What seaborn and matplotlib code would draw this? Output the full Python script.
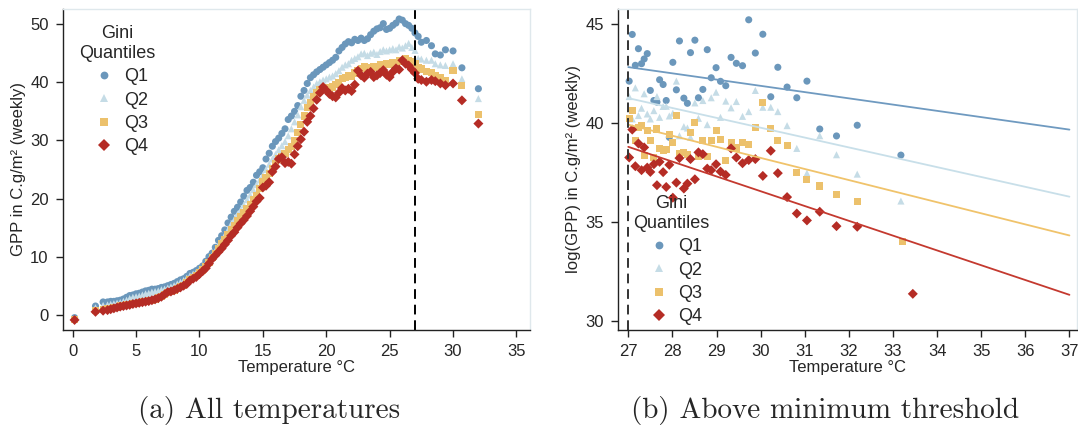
import numpy as np
import pandas as pd
import seaborn as sns
import matplotlib.pyplot as plt

quantiles = ['Q1', 'Q2', 'Q3', 'Q4']
colors = ['#6b97bb', '#c5dce6', '#ecc16c', '#b52c25']
line_colors = ['#6f9ac0', '#c8dfe9', '#f0c36b', '#c4392f']
markers = ['o', '^', 's', 'D']

# (a) weekly GPP by temperature bin, all temperatures
temp_all = [0.15, 1.8, 2.4,
            2.75, 3.0, 3.25, 3.5, 3.75, 4.0, 4.25, 4.5, 4.75, 5.0,
            5.25, 5.5, 5.75, 6.0, 6.25, 6.5, 6.75, 7.0, 7.25, 7.5,
            7.75, 8.0, 8.25, 8.5, 8.75, 9.0, 9.25, 9.5, 9.75, 10.0,
            10.25, 10.5, 10.75, 11.0, 11.25, 11.5, 11.75, 12.0, 12.25, 12.5,
            12.75, 13.0, 13.25, 13.5, 13.75, 14.0, 14.25, 14.5, 14.75, 15.0,
            15.25, 15.5, 15.75, 16.0, 16.25, 16.5, 16.75, 17.0, 17.25, 17.5,
            17.75, 18.0, 18.25, 18.5, 18.75, 19.0, 19.25, 19.5, 19.75, 20.0,
            20.25, 20.5, 20.75, 21.0, 21.25, 21.5, 21.75, 22.0, 22.25, 22.5,
            22.75, 23.0, 23.25, 23.5, 23.75, 24.0, 24.25, 24.5, 24.75, 25.0,
            25.25, 25.5, 25.75, 26.0, 26.25, 26.5, 26.75, 27.0,
            27.25, 27.5, 27.9, 28.3, 28.6, 29.0, 29.4, 30.0, 30.7, 32.0]

gpp_q1 = [-0.5, 1.5, 2.2,
          2.2, 2.3, 2.3, 2.4, 2.5, 2.7, 3.0, 3.3, 3.4, 3.6,
          3.7, 3.9, 4.1, 4.2, 4.4, 4.4, 4.5, 4.7, 4.8, 5.0,
          5.2, 5.4, 5.7, 6.0, 6.2, 6.6, 7.1, 7.3, 7.6, 8.0,
          8.4, 9.2, 10.0, 10.6, 11.6, 12.8, 13.6, 14.6, 15.8, 16.8,
          17.8, 18.5, 19.4, 20.4, 21.4, 21.9, 22.8, 24.0, 24.6, 25.3,
          26.8, 27.8, 29.0, 29.8, 30.4, 31.2, 32.0, 33.6, 34.2, 35.0,
          36.0, 37.6, 38.6, 39.8, 40.8, 41.3, 41.8, 42.2, 42.6, 43.0,
          43.4, 43.8, 44.3, 45.4, 46.0, 46.6, 47.0, 46.8, 47.4, 47.2,
          47.6, 47.2, 47.5, 48.2, 48.8, 49.2, 49.4, 50.1, 49.1, 49.3,
          49.8, 50.2, 50.9, 50.7, 50.1, 49.8, 49.3, 48.5,
          47.9, 46.9, 47.2, 46.3, 44.9, 44.7, 45.6, 45.4, 42.5, 38.9]
gpp_q2 = [-0.6, 1.2, 1.6,
          1.7, 1.8, 1.9, 2.0, 2.1, 2.3, 2.5, 2.8, 3.0, 3.1,
          3.2, 3.4, 3.6, 3.7, 3.9, 4.0, 4.1, 4.3, 4.4, 4.6,
          4.8, 5.0, 5.3, 5.6, 5.9, 6.3, 6.7, 7.0, 7.3, 7.7,
          8.1, 8.8, 9.5, 10.2, 11.0, 11.9, 12.8, 13.7, 14.6, 15.6,
          16.4, 17.3, 18.0, 18.9, 19.8, 20.6, 21.5, 22.4, 23.2, 24.0,
          25.0, 25.9, 26.8, 27.6, 28.4, 29.1, 29.8, 30.8, 32.0, 33.2,
          34.4, 35.8, 36.9, 37.8, 38.6, 39.2, 39.8, 40.1, 40.4, 40.6,
          40.9, 41.1, 41.5, 42.0, 42.6, 43.0, 43.2, 43.8, 44.1, 44.4,
          44.9, 45.0, 44.6, 45.0, 45.2, 44.8, 45.3, 45.6, 45.4, 45.6,
          45.8, 45.6, 46.1, 45.9, 46.3, 46.7, 46.0, 45.5,
          44.1, 44.0, 43.8, 43.8, 43.2, 43.0, 42.9, 43.2, 40.6, 37.2]
gpp_q3 = [-0.8, 0.7, 0.9,
          1.0, 1.1, 1.2, 1.3, 1.5, 1.6, 1.7, 1.8, 1.9, 2.0,
          2.1, 2.2, 2.3, 2.4, 2.5, 2.7, 2.9, 3.1, 3.5, 3.8,
          4.0, 4.2, 4.5, 4.8, 5.1, 5.5, 6.0, 6.4, 6.8, 7.2,
          7.7, 8.3, 9.0, 9.8, 10.6, 11.4, 12.2, 13.0, 13.8, 14.6,
          15.4, 16.2, 16.9, 17.6, 18.3, 19.0, 19.8, 20.6, 21.8, 23.0,
          23.6, 24.3, 25.2, 26.0, 26.8, 27.3, 27.8, 28.4, 29.0, 30.0,
          31.4, 32.8, 34.2, 35.6, 36.6, 37.5, 38.3, 38.8, 39.0, 39.1,
          39.0, 39.2, 39.6, 40.0, 40.6, 40.8, 41.2, 41.0, 41.6, 42.0,
          42.4, 42.8, 42.2, 42.6, 42.8, 42.6, 43.0, 43.1, 43.2, 43.0,
          43.4, 43.3, 43.8, 43.6, 44.1, 43.8, 43.5, 43.2,
          42.6, 42.3, 41.8, 41.7, 41.2, 40.8, 40.3, 42.1, 39.5, 34.5]
gpp_q4 = [-0.9, 0.5, 0.7,
          0.8, 0.95, 1.1, 1.25, 1.4, 1.5, 1.6, 1.7, 1.85, 1.95,
          2.05, 2.15, 2.25, 2.35, 2.5, 2.65, 2.85, 3.1, 3.5, 3.9,
          4.0, 4.2, 4.45, 4.7, 5.0, 5.3, 5.9, 6.2, 6.5, 7.0,
          7.5, 8.0, 8.8, 9.6, 10.2, 10.8, 11.4, 12.1, 12.8, 13.6,
          14.2, 15.0, 15.7, 16.3, 17.0, 17.8, 18.6, 19.5, 20.1, 21.9,
          22.2, 22.8, 24.6, 25.5, 26.8, 27.1, 26.1, 26.3, 26.0, 27.6,
          29.0, 30.2, 31.5, 33.2, 34.2, 35.5, 37.0, 38.2, 39.2, 38.6,
          38.0, 37.6, 37.4, 38.2, 39.0, 38.6, 38.9, 38.5, 39.6, 42.0,
          41.2, 40.8, 41.5, 41.8, 40.9, 41.2, 41.6, 42.1, 41.3, 40.9,
          41.8, 42.4, 42.2, 43.8, 43.2, 42.9, 42.2, 41.6,
          40.6, 40.4, 40.1, 40.4, 40.2, 39.8, 39.5, 39.8, 36.9, 32.9]

# (b) above the 27 C threshold
temp_hot = [27.02, 27.09, 27.16, 27.23, 27.30, 27.36, 27.43, 27.50, 27.58, 27.65,
            27.71, 27.79, 27.86, 27.93, 28.01, 28.09, 28.16, 28.26, 28.34, 28.41,
            28.51, 28.59, 28.69, 28.79, 28.88, 28.99, 29.09, 29.21, 29.33, 29.45,
            29.59, 29.73, 29.88, 30.05, 30.23, 30.39, 30.60, 30.82, 31.05, 31.34,
            31.72, 32.19]
hot_q1 = [42.12, 44.48, 42.92, 43.76, 43.00, 43.24, 43.51, 41.65, 41.14, 41.06,
          42.19, 41.95, 41.14, 39.28, 43.07, 41.68, 44.15, 41.26, 41.00, 43.56,
          44.19, 41.28, 41.70, 43.71, 42.29, 42.80, 42.11, 41.89, 43.32, 43.02,
          42.90, 45.22, 43.54, 44.49, 41.33, 42.82, 41.82, 41.28, 42.12, 39.70,
          39.35, 39.89]
hot_q2 = [41.34, 40.21, 41.78, 40.38, 40.75, 41.48, 40.46, 40.21, 40.63, 41.34,
          40.29, 40.84, 40.85, 40.36, 40.50, 42.12, 39.36, 39.82, 39.75, 39.28,
          41.02, 40.24, 41.14, 39.92, 41.28, 41.56, 40.29, 41.11, 40.77, 41.09,
          40.34, 40.58, 41.65, 40.80, 40.80, 40.58, 39.87, 38.72, 37.47, 39.36,
          38.40, 37.42]
hot_q3 = [40.21, 40.65, 39.14, 39.79, 39.87, 38.35, 39.62, 39.14, 38.26, 39.70,
          38.72, 38.60, 38.65, 39.40, 39.02, 40.38, 38.48, 38.50, 38.43, 39.53,
          40.01, 38.30, 39.11, 38.30, 39.11, 39.62, 39.19, 38.13, 39.02, 38.74,
          39.02, 38.94, 39.79, 41.06, 39.73, 39.14, 38.89, 37.50, 37.13, 36.82,
          36.37, 36.03]
hot_q4 = [38.26, 39.67, 37.82, 38.97, 37.62, 38.77, 37.75, 37.53, 37.92, 36.86,
          38.04, 37.52, 36.77, 37.89, 36.23, 36.99, 38.23, 36.69, 36.94, 38.18,
          37.16, 38.52, 38.43, 37.70, 37.62, 37.92, 37.55, 37.38, 38.72, 38.26,
          37.97, 38.13, 38.18, 37.33, 38.60, 37.47, 36.26, 35.43, 35.08, 35.52,
          34.79, 34.76]
# hottest bin, one point per quantile
last_temp = [33.18, 33.18, 33.22, 33.45]
last_val = [38.38, 36.06, 34.03, 31.37]

# linear fits, value at 27 and at 37
fit_temp = [27, 37]
fit_start = [42.83, 41.26, 39.92, 38.80]
fit_end = [39.67, 36.28, 34.32, 31.32]

threshold = 27

sns.set_theme(style='white')
plt.rcParams['font.family'] = ['Liberation Sans', 'DejaVu Sans']

df_all = pd.concat([pd.DataFrame({'Temperature': temp_all, 'GPP': v, 'Quantile': q})
                    for q, v in zip(quantiles, [gpp_q1, gpp_q2, gpp_q3, gpp_q4])])
df_hot = pd.concat([pd.DataFrame({'Temperature': temp_hot + [lt], 'GPP': v + [lv], 'Quantile': q})
                    for q, v, lt, lv in zip(quantiles, [hot_q1, hot_q2, hot_q3, hot_q4],
                                            last_temp, last_val)])
df_fit = pd.concat([pd.DataFrame({'Temperature': fit_temp, 'GPP': [s, e], 'Quantile': q})
                    for q, s, e in zip(quantiles, fit_start, fit_end)])

palette = dict(zip(quantiles, colors))
mark = dict(zip(quantiles, markers))

fig = plt.figure(figsize=(10.78, 4.34), dpi=100)
ax1 = fig.add_axes([0.058, 0.240, 0.434, 0.739])
ax2 = fig.add_axes([0.573, 0.240, 0.426, 0.739])


def style_axes(ax):
    for side in ['left', 'bottom']:
        ax.spines[side].set_color('#222222')
        ax.spines[side].set_linewidth(1.0)
    for side in ['top', 'right']:
        ax.spines[side].set_color('#dfe8ec')
        ax.spines[side].set_linewidth(1.0)
    ax.tick_params(direction='out', length=5, width=1, color='#222222',
                   labelsize=12, pad=5, left=True, bottom=True)
    ax.grid(False)


def add_legend(ax, anchor):
    h, l = ax.get_legend_handles_labels()
    leg = ax.legend(h, l, title='Gini\nQuantiles', frameon=False, loc='upper left',
                    bbox_to_anchor=anchor, fontsize=13, title_fontsize=13,
                    labelspacing=0.35, handletextpad=0.1, markerscale=1.1,
                    alignment='center')
    leg.get_title().set_multialignment('center')


# (a)
sns.scatterplot(data=df_all, x='Temperature', y='GPP', hue='Quantile', style='Quantile',
                palette=palette, markers=mark, s=26, linewidth=0, ax=ax1)
ax1.axvline(threshold, color='black', lw=1.4, ls=(0, (5, 3)))
ax1.set_xlim(-0.8, 36.1)
ax1.set_ylim(-2.6, 52.6)
ax1.set_xticks(range(0, 36, 5))
ax1.set_yticks(range(0, 51, 10))
ax1.set_xlabel('Temperature °C', fontsize=12, labelpad=1)
ax1.set_ylabel('GPP in C.g/m² (weekly)', fontsize=12, labelpad=3)
style_axes(ax1)
add_legend(ax1, (0.0, 1.0))

# (b)
sns.scatterplot(data=df_hot, x='Temperature', y='GPP', hue='Quantile', style='Quantile',
                palette=palette, markers=mark, s=26, linewidth=0, ax=ax2)
sns.lineplot(data=df_fit, x='Temperature', y='GPP', hue='Quantile',
             palette=dict(zip(quantiles, line_colors)), lw=1.3, legend=False, ax=ax2)
ax2.axvline(threshold, color='#333333', lw=1.4, ls=(0, (5, 3)))
ax2.set_xlim(26.76, 37.17)
ax2.set_ylim(29.55, 45.76)
ax2.set_xticks(range(27, 38))
ax2.set_yticks([30, 35, 40, 45])
ax2.set_xlabel('Temperature °C', fontsize=12, labelpad=1)
ax2.set_ylabel('log(GPP) in C.g/m² (weekly)', fontsize=12, labelpad=3)
style_axes(ax2)
add_legend(ax2, (-0.001, 0.47))

fig.text(0.25, 0.055, '(a) All temperatures', family='cmr10', fontsize=21,
         ha='center', va='center')
fig.text(0.765, 0.055, '(b) Above minimum threshold', family='cmr10', fontsize=21,
         ha='center', va='center')

fig.savefig('out.png', dpi=100)
